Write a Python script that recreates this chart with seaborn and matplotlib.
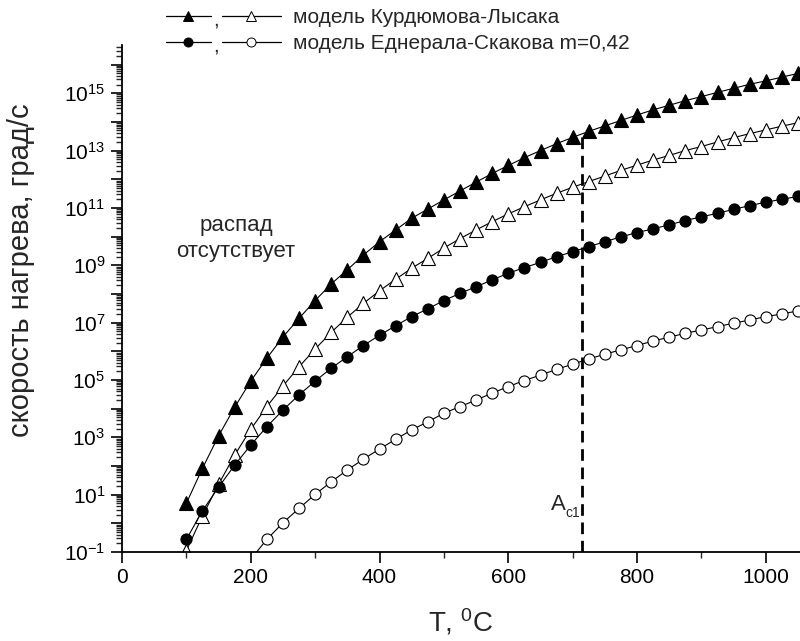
import numpy as np
import pandas as pd
import matplotlib
matplotlib.use("Agg")
import matplotlib.pyplot as plt
import seaborn as sns
from matplotlib.lines import Line2D
from matplotlib.text import Text
from matplotlib.legend_handler import HandlerBase
from matplotlib.ticker import FixedLocator, FuncFormatter, MultipleLocator, NullFormatter

# ---------------- data ----------------
T_full = [100, 125, 150, 175, 200, 225, 250, 275, 300, 325, 350, 375, 400, 425,
          450, 475, 500, 525, 550, 575, 600, 625, 650, 675, 700, 725, 750, 775,
          800, 825, 850, 875, 900, 925, 950, 975, 1000, 1025, 1050]
T_es_open = [200, 225, 250, 275, 300, 325, 350, 375, 400, 425, 450, 475, 500,
             525, 550, 575, 600, 625, 650, 675, 700, 725, 750, 775, 800, 825,
             850, 875, 900, 925, 950, 975, 1000, 1025, 1050]

# decimal exponents of heating rate (grad/s)
kl_filled_exp = [0.70, 1.92, 3.05, 4.05, 4.96, 5.76, 6.50, 7.15, 7.77, 8.35, 8.84,
                 9.36, 9.82, 10.23, 10.64, 10.96, 11.28, 11.59, 11.90, 12.20,
                 12.48, 12.75, 13.00, 13.24, 13.46, 13.67, 13.86, 14.05, 14.24,
                 14.42, 14.58, 14.74, 14.88, 15.03, 15.17, 15.31, 15.43, 15.56, 15.69]
kl_open_exp = [-0.95, 0.26, 1.36, 2.38, 3.28, 4.07, 4.79, 5.46, 6.08, 6.66, 7.19,
               7.67, 8.11, 8.51, 8.90, 9.24, 9.60, 9.93, 10.23, 10.52, 10.79,
               11.04, 11.28, 11.51, 11.72, 11.92, 12.11, 12.31, 12.49, 12.67,
               12.83, 13.00, 13.14, 13.30, 13.45, 13.59, 13.72, 13.85, 13.97]
es_filled_exp = [-0.56, 0.44, 1.26, 2.03, 2.73, 3.37, 3.95, 4.48, 4.96, 5.41, 5.81,
                 6.20, 6.56, 6.89, 7.21, 7.48, 7.77, 8.02, 8.25, 8.49, 8.72, 8.92,
                 9.10, 9.30, 9.47, 9.65, 9.82, 9.99, 10.14, 10.27, 10.41, 10.56,
                 10.69, 10.81, 10.95, 11.08, 11.20, 11.30, 11.40]
es_open_exp = [-1.25, -0.56, 0.02, 0.52, 1.01, 1.45, 1.86, 2.24, 2.59, 2.93, 3.26,
               3.54, 3.84, 4.07, 4.30, 4.54, 4.77, 4.98, 5.17, 5.37, 5.55, 5.73,
               5.90, 6.05, 6.20, 6.36, 6.49, 6.63, 6.74, 6.86, 6.98, 7.09, 7.21,
               7.30, 7.41]

Ac1_T = 715
Ac1_top = 4.2e13

legend_labels = ["модель Курдюмова-Лысака", "модель Еднерала-Скакова m=0,42"]
xlabel = r"T, $^{\mathregular{0}}$C"
ylabel = "скорость нагрева, град/с"
note = "распад\nотсутствует"

x_major = [0, 200, 400, 600, 800, 1000]
y_decades = list(range(-1, 17))

# ---------------- style ----------------
sns.set_style("ticks")
plt.rcParams["font.family"] = ["Liberation Sans", "DejaVu Sans"]
plt.rcParams["mathtext.fontset"] = "custom"
plt.rcParams["mathtext.rm"] = "Liberation Sans"
plt.rcParams["mathtext.it"] = "Liberation Sans:italic"
plt.rcParams["mathtext.bf"] = "Liberation Sans:bold"

fig = plt.figure(figsize=(8.0, 6.41), dpi=100)
ax = fig.add_axes([122 / 800, 89 / 641, 678 / 800, 507 / 641])
ax.set_yscale("log")

series = [
    (T_full, kl_filled_exp, "^", "black", 9.5),
    (T_full, kl_open_exp, "^", "white", 9.5),
    (T_full, es_filled_exp, "o", "black", 8.0),
    (T_es_open, es_open_exp, "o", "white", 8.0),
]
for T, e, mk, fc, ms in series:
    df = pd.DataFrame({"T": T, "rate": np.power(10.0, e)})
    sns.lineplot(data=df, x="T", y="rate", ax=ax, color="black", lw=0.8,
                 marker=mk, markersize=ms, markerfacecolor=fc,
                 markeredgecolor="black", markeredgewidth=0.8, legend=False)

# Ac1 line
ax.vlines(Ac1_T, 1e-1, Ac1_top, colors="black", linewidth=2.0,
          linestyles=(0, (4.2, 2.4)), zorder=1)
ax.text(Ac1_T - 49, 10 ** 0.47, "A", fontsize=16, ha="left", va="baseline")
ax.text(Ac1_T - 26, 10 ** 0.22, "c1", fontsize=10, ha="left", va="baseline")
ax.text(177, 10 ** 9.93, note, fontsize=16, ha="center", va="center",
        linespacing=1.3)

ax.set_xlim(0, 1053)
ax.set_ylim(1e-1, 10 ** 16.68)

ax.xaxis.set_major_locator(FixedLocator(x_major))
ax.xaxis.set_minor_locator(MultipleLocator(100))
ax.yaxis.set_major_locator(FixedLocator([10.0 ** d for d in y_decades]))
minor = [m * 10.0 ** d for d in y_decades for m in range(2, 10)]
ax.yaxis.set_minor_locator(FixedLocator(minor))
ax.yaxis.set_minor_formatter(NullFormatter())


def yfmt(v, pos):
    d = int(round(np.log10(v)))
    if d % 2 == 0:
        return ""
    return r"$\mathregular{10^{%d}}$" % d


ax.yaxis.set_major_formatter(FuncFormatter(yfmt))

ax.tick_params(axis="both", which="major", direction="out", length=8, width=1.2,
               labelsize=15, colors="black")
ax.tick_params(axis="both", which="minor", direction="out", length=4, width=1.0)
ax.tick_params(axis="y", which="major", pad=4)

for s in ["top", "right"]:
    ax.spines[s].set_visible(False)
for s in ["left", "bottom"]:
    ax.spines[s].set_linewidth(1.3)
    ax.spines[s].set_color("black")

ax.set_xlabel(xlabel, fontsize=20, labelpad=14)
ax.set_ylabel(ylabel, fontsize=21)
ax.yaxis.set_label_coords(-0.128, 0.556)


# ---------------- legend: "—▲—,—△—  text" ----------------
class PairHandler(HandlerBase):
    def create_artists(self, legend, orig_handle, xdescent, ydescent, width,
                       height, fontsize, trans):
        h1, h2 = orig_handle
        y = height / 2.0 - ydescent
        x0 = -xdescent
        w1 = width * 0.39
        gap = width * 0.10
        arts = []
        for h, a, b in ((h1, x0, x0 + w1), (h2, x0 + w1 + gap, x0 + width)):
            arts.append(Line2D([a, b], [y, y], color="black", lw=0.9,
                               transform=trans))
            arts.append(Line2D([(a + b) / 2.0], [y], linestyle="none",
                               marker=h.get_marker(), markersize=6.5,
                               markerfacecolor=h.get_markerfacecolor(),
                               markeredgecolor="black", markeredgewidth=0.7,
                               transform=trans))
        arts.append(Text(x0 + w1 + gap / 2.0, y - fontsize * 0.45, ",",
                         ha="center", va="baseline", fontsize=fontsize,
                         transform=trans))
        return arts


hk = (Line2D([], [], marker="^", markerfacecolor="black"),
      Line2D([], [], marker="^", markerfacecolor="white"))
he = (Line2D([], [], marker="o", markerfacecolor="black"),
      Line2D([], [], marker="o", markerfacecolor="white"))
fig.legend([hk, he], legend_labels, handler_map={tuple: PairHandler()},
           loc="upper left", bbox_to_anchor=(166 / 800, 1 - 8 / 641),
           frameon=False, fontsize=15, handlelength=5.5, handletextpad=0.6,
           labelspacing=0.35, borderpad=0.0, borderaxespad=0.0)

fig.savefig("out.png", dpi=100)
